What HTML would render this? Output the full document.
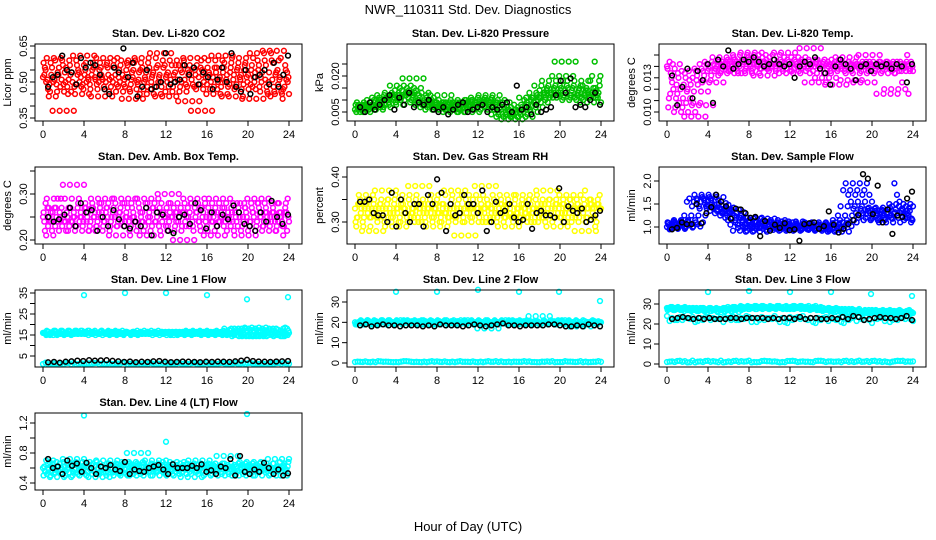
<!DOCTYPE html>
<html><head><meta charset="utf-8">
<style>
html,body{margin:0;padding:0;background:#fff;}
svg{display:block;font-family:"Liberation Sans",Arial,sans-serif;}
</style></head>
<body>
<svg id="chart" width="936" height="540" viewBox="0 0 936 540" xmlns="http://www.w3.org/2000/svg">
<rect x="0" y="0" width="936" height="540" fill="#fff"/>
<text x="468" y="14" font-size="13" text-anchor="middle">NWR_110311  Std. Dev. Diagnostics</text>
<text x="468" y="531" font-size="13" text-anchor="middle">Hour of Day (UTC)</text>
</svg>
<script>
const xTicks = [0,4,8,12,16,20,24];

const co2 = [0.52,0.55,0.47,0.58,0.50,0.44,0.53,0.60,0.49,0.56,0.51,0.46,0.38,0.59,0.54,0.48,0.57,0.50,0.45,0.53,0.61,0.49,0.55,0.52,0.47,0.58,0.51,0.44,0.56,0.60,0.50,0.53,0.48,0.57,0.46,0.52,0.59,0.49,0.55,0.43,0.51,0.58,0.47,0.54,0.60,0.50,0.45,0.56,0.52,0.48,0.62,0.53,0.44,0.57,0.50,0.59,0.46,0.54,0.51,0.48,0.57,0.42,0.55,0.60,0.49,0.53,0.38,0.56,0.47,0.52,0.59,0.50,0.45,0.54,0.61,0.48,0.56,0.51,0.44,0.58,0.53,0.49,0.60,0.47,0.55,0.52,0.43,0.57,0.50,0.62,0.48,0.54,0.59,0.46,0.63,0.51,0.45];
const co2K = [0.48,0.52,0.53,0.61,0.55,0.54,0.49,0.60,0.56,0.58,0.57,0.53,0.47,0.45,0.56,0.54,0.64,0.52,0.58,0.44,0.48,0.55,0.47,0.48,0.50,0.62,0.49,0.50,0.51,0.57,0.53,0.56,0.49,0.54,0.52,0.47,0.51,0.56,0.50,0.62,0.48,0.46,0.55,0.45,0.52,0.53,0.55,0.49,0.58,0.48,0.53,0.61];

const pr = [0.006,0.007,0.005,0.008,0.006,0.007,0.005,0.008,0.006,0.009,0.007,0.006,0.008,0.010,0.007,0.011,0.009,0.012,0.010,0.008,0.013,0.011,0.016,0.012,0.014,0.010,0.015,0.019,0.012,0.013,0.009,0.011,0.008,0.010,0.007,0.009,0.006,0.008,0.012,0.007,0.009,0.006,0.008,0.005,0.009,0.007,0.010,0.006,0.008,0.005,0.009,0.007,0.010,0.008,0.011,0.006,0.009,0.012,0.008,0.010,0.007,0.009,0.004,0.006,0.003,0.005,0.002,0.007,0.004,0.006,0.003,0.008,0.005,0.011,0.007,0.010,0.009,0.013,0.011,0.016,0.012,0.014,0.018,0.013,0.015,0.011,0.020,0.026,0.012,0.016,0.010,0.014,0.018,0.012,0.015,0.011,0.013,0.009];
const prK = [0.007,0.005,0.009,0.006,0.008,0.010,0.012,0.006,0.011,0.008,0.013,0.007,0.009,0.008,0.010,0.006,0.005,0.007,0.004,0.006,0.008,0.009,0.005,0.006,0.007,0.008,0.005,0.007,0.006,0.008,0.009,0.005,0.016,0.006,0.007,0.004,0.008,0.005,0.006,0.007,0.012,0.018,0.013,0.019,0.007,0.008,0.007,0.010,0.013,0.008];

const tp = [0.0120,0.0122,0.0113,0.0119,0.0108,0.0121,0.0102,0.0117,0.0110,0.0106,0.0115,0.0100,0.0112,0.0104,0.0118,0.0098,0.0109,0.0114,0.0103,0.0119,0.0116,0.0121,0.0113,0.0122,0.0118,0.0120,0.0124,0.0119,0.0121,0.0117,0.0122,0.0120,0.0123,0.0118,0.0125,0.0121,0.0117,0.0126,0.0122,0.0119,0.0124,0.0120,0.0116,0.0122,0.0125,0.0119,0.0121,0.0123,0.0118,0.0121,0.0126,0.0120,0.0117,0.0122,0.0124,0.0119,0.0121,0.0118,0.0123,0.0120,0.0128,0.0122,0.0113,0.0120,0.0117,0.0121,0.0115,0.0123,0.0119,0.0121,0.0112,0.0122,0.0118,0.0120,0.0124,0.0119,0.0114,0.0121,0.0117,0.0122,0.0120,0.0113,0.0121,0.0125,0.0118,0.0120,0.0122,0.0119,0.0121,0.0117,0.0108,0.0122,0.0120,0.0110,0.0121,0.0119,0.0118];
const tpK = [0.0116,0.0103,0.0111,0.0119,0.0106,0.0118,0.0114,0.0121,0.0104,0.0123,0.0120,0.0127,0.0119,0.0121,0.0123,0.0122,0.0124,0.0122,0.0120,0.0121,0.0123,0.0121,0.0120,0.0121,0.0115,0.0120,0.0122,0.0121,0.0124,0.0119,0.0117,0.0112,0.0120,0.0123,0.0121,0.0119,0.0114,0.0120,0.0121,0.0118,0.0121,0.0120,0.0121,0.0119,0.0121,0.0120,0.0113,0.0121];

const ab = [0.25,0.28,0.23,0.26,0.21,0.27,0.24,0.29,0.25,0.22,0.27,0.24,0.26,0.23,0.29,0.25,0.32,0.24,0.22,0.27,0.25,0.23,0.28,0.26,0.24,0.27,0.22,0.29,0.25,0.23,0.26,0.28,0.24,0.27,0.21,0.25,0.29,0.23,0.26,0.24,0.28,0.25,0.22,0.27,0.24,0.29,0.21,0.26,0.23,0.28,0.25,0.27,0.24,0.30,0.22,0.26,0.25,0.23,0.28,0.20,0.26,0.24,0.27,0.29,0.23,0.25,0.28,0.22,0.26,0.24,0.27,0.21,0.25,0.29,0.24,0.26,0.23,0.28,0.25,0.27,0.22,0.24,0.26,0.21,0.28,0.25,0.23,0.27,0.29,0.24,0.26,0.22,0.28,0.25,0.23,0.26,0.24];
const abK = [0.25,0.24,0.245,0.255,0.27,0.23,0.28,0.26,0.265,0.22,0.25,0.23,0.265,0.245,0.23,0.225,0.24,0.23,0.27,0.21,0.26,0.255,0.22,0.215,0.25,0.255,0.235,0.28,0.265,0.225,0.26,0.23,0.255,0.245,0.275,0.26,0.235,0.23,0.22,0.26,0.24,0.285,0.25,0.235,0.255];

const rh = [0.33,0.31,0.35,0.30,0.34,0.32,0.29,0.36,0.33,0.31,0.34,0.28,0.33,0.35,0.31,0.32,0.37,0.30,0.34,0.33,0.29,0.35,0.32,0.31,0.36,0.33,0.30,0.34,0.32,0.38,0.31,0.33,0.35,0.30,0.34,0.32,0.29,0.33,0.36,0.31,0.34,0.32,0.30,0.37,0.33,0.31,0.35,0.27,0.33,0.32,0.36,0.30,0.34,0.33,0.31,0.38,0.32,0.35,0.30,0.33,0.34,0.31,0.36,0.32,0.29,0.34,0.33,0.31,0.35,0.32,0.30,0.36,0.33,0.31,0.34,0.32,0.35,0.30,0.33,0.37,0.31,0.34,0.32,0.29,0.35,0.33,0.31,0.34,0.36,0.32,0.30,0.33,0.35,0.31,0.28,0.34,0.33];
const rhK = [0.345,0.345,0.35,0.32,0.315,0.315,0.30,0.365,0.29,0.35,0.32,0.30,0.34,0.34,0.29,0.36,0.34,0.395,0.365,0.28,0.34,0.315,0.32,0.36,0.34,0.34,0.32,0.37,0.28,0.30,0.345,0.32,0.325,0.34,0.31,0.30,0.305,0.34,0.285,0.32,0.325,0.315,0.315,0.31,0.375,0.30,0.335,0.325,0.32,0.33,0.30,0.305,0.315,0.325];

const sf = [1.00,0.95,1.05,1.10,0.98,1.02,1.08,0.96,1.12,1.04,0.99,1.15,1.06,1.01,1.10,1.25,1.55,1.62,1.45,1.70,1.58,1.40,1.65,1.52,1.48,1.35,1.42,1.30,1.38,1.25,1.32,1.20,1.15,1.05,0.92,1.10,0.98,1.20,1.02,0.90,1.12,1.05,1.18,0.96,1.08,1.00,1.15,0.94,1.06,1.10,0.98,1.04,0.92,1.12,1.00,0.96,1.08,1.02,0.94,1.06,1.00,0.97,1.10,0.95,1.03,0.98,0.92,1.05,1.00,0.96,1.08,0.90,1.02,1.15,1.10,1.25,1.45,1.80,1.95,1.70,1.55,1.40,1.30,1.20,1.35,1.15,1.28,1.42,1.18,1.32,1.25,1.10,1.38,1.20,1.30,1.50,1.45];
const sfK = [0.95,0.98,1.10,1.06,1.06,1.50,1.08,1.30,1.43,1.70,1.55,1.45,1.18,1.40,1.38,1.30,1.20,1.22,0.80,1.13,0.92,1.05,0.98,1.08,0.93,0.95,0.70,1.06,1.08,1.10,0.96,1.02,1.34,1.05,0.88,0.96,1.06,1.15,1.26,2.15,2.05,1.28,1.90,1.10,1.38,0.85,1.25,1.22,1.62,1.77];

const l1 = [16,15.5,16.5,16,15,16.5,16,17,15.5,16,16.5,15,16,17,16,15.5,16.5,16,17,15.5,16,16,15.5,17,16,16.5,15,16,16.5,16,15.5,17,16,16,15.5,16.5,16,15,16.5,16,15.5,16.5,16,16,15.5,17,16,15.5,16,16.5,16,15,16.5,16,16,15.5,16.5,16,15,16,16.5,16,15.5,16,17,16,15.5,16.5,16,16,15,16.5,16,15.5,16,16.5,17,15.5,16,18,15,17.5,14.5,18,15,17,14.5,18.5,15,17.5,14.5,18,15,17,16,15.5,16];
const l1Low = [1.2,1.5,1.0,1.8,1.3,1.6,1.1,1.4,1.7,1.2,1.5,1.0,1.6,1.3,1.4,1.2,1.8,1.1,1.5,1.3,1.6,1.2,1.4,1.7,1.3];
const l1K = [2,2.2,1.8,2.3,2.5,2.8,2.6,3,2.8,2.9,3,2.7,2.5,2.2,2.4,2.1,2.3,2.2,2.5,2.6,2.3,2.1,2.2,2.4,2.3,2.2,2.1,2.3,2.2,2.4,2.3,2.2,2.5,2.8,3.2,2.6,2.4,2.3,2.2,2.4,2.5,2.6];
const l1OutX = [4,8,12,16,19.9,23.9];
const l1Out = [34,35,35,34,32,33];

const l2 = [20,19.5,20.5,19,20,21,19.5,20,20.5,19,20,20.5,19.5,21,20,19,20.5,20,19.5,21,20,19.5,20.5,20,19,20,21,19.5,20,20.5,19.5,20,19,20.5,20,21,19.5,20,20.5,19,20,20,19.5,20.5,21,20,19.5,20,20.5,19,20,21,19.5,20,20,19.5,17,20.5,20,19.5,21,20,19,20.5,20,19.5,20,21,20,19.5,20.5,20,19,20,20.5,19.5,23,20,19,20.5,20,19.5,21,20,19.5,20,20.5,19,20,21,19.5,20,18,20,19.5,20.5,20];
const l2Low = [0.5,0.8,0.4,0.7,0.5,0.9,0.6,0.4,0.8,0.5,0.7,0.6,0.4,0.9,0.5,0.7,0.6,0.8,0.4,0.6,0.5,0.7,0.9,0.5,0.6];
const l2K = [18.5,19,18,18.5,19,18.5,18.5,18,18.5,18.5,18.5,18,18.5,18,19,18.5,18.5,18.5,18,18.5,19,18.5,18,18.5,19,19.5,18.5,18.5,18,18.5,18.5,18.5,18.5,19,19,18.5,18,18,18.5,18,19,18.5,18];
const l2OutX = [4,8,12,16,19.9,23.9];
const l2Out = [35,35,36,35,35,30.5];

const l3 = [28,27.5,28.5,27,28,27.5,28,28.5,27,27.5,28,27,27.5,28,27,26.5,27.5,28,27,27.5,26.5,27,28,27.5,27,26.5,27.5,27,26,27,27.5,28,28.5,28,28.5,27.5,28,29,28.5,28,27.5,28.5,28,29,28.5,28,28.5,28,27.5,28.5,28,28.5,29,28,28.5,27.5,28,28.5,29,28,28.5,28,27.5,28,27,27.5,28,27.5,27,26.5,27,27.5,26.5,27,26,27.5,26,25.5,26.5,26,27,25.5,26,26.5,26,25.5,26.5,27,26,25.5,26.5,26,25.5,26,26.5,26,25.5];
const l3Mid = [24,22,23,21.5,23.5,22.5,23,22,23.5,22,23,21,23.5,22.5,23,22,24,21,23,22.5,20.5,23.5,22,23,21.5];
const l3Low = [1,1.5,0.8,1.2,1.6,0.9,1.3,1.1,1.7,1,1.4,0.8,1.5,1.2,1,1.6,1.3,0.9,1.4,1.1,1.5,1,1.2,1.6,1.3];
const l3K = [22.5,23,23.5,23,22.5,23,22.5,23,22.5,22.5,22.5,23,23,22.5,23,23,23,23,22.5,23,22.5,23,23,22.5,23.5,22.5,23,23,22.5,22.5,23,22.5,23.5,22.5,24,23.5,22,22.5,23,23.5,23,23,22.5,23,24,22];
const l3OutX = [4,8,12,16,19.9,23.9];
const l3Out = [36,36.5,36,36,35,34];

const l4 = [0.6,0.55,0.65,0.5,0.7,0.58,0.62,0.52,0.68,0.56,0.6,0.48,0.66,0.54,0.62,0.58,0.72,0.5,0.6,0.64,0.55,0.68,0.52,0.62,0.58,0.66,0.48,0.6,0.56,0.7,0.54,0.62,0.58,0.5,0.66,0.6,0.55,0.64,0.52,0.68,0.58,0.8,0.5,0.62,0.56,0.66,0.6,0.54,0.7,0.58,0.62,0.5,0.64,0.56,0.6,0.68,0.52,0.62,0.58,0.66,0.55,0.6,0.48,0.64,0.58,0.7,0.52,0.62,0.56,0.6,0.66,0.5,0.64,0.58,0.62,0.55,0.76,0.6,0.52,0.66,0.58,0.62,0.5,0.64,0.56,0.68,0.6,0.54,0.62,0.58,0.66,0.5,0.6,0.56,0.62,0.58,0.72];
const l4OutX = [4,12,19.9];
const l4Out = [1.3,0.95,1.32];
const l4K = [0.72,0.6,0.62,0.52,0.7,0.63,0.66,0.55,0.67,0.6,0.52,0.62,0.6,0.64,0.58,0.56,0.68,0.52,0.58,0.56,0.55,0.6,0.62,0.64,0.58,0.52,0.65,0.6,0.6,0.6,0.63,0.6,0.65,0.55,0.57,0.52,0.62,0.6,0.72,0.5,0.76,0.55,0.52,0.58,0.55,0.67,0.6,0.52,0.58,0.5,0.53];

const panels = [
 {name:'co2', title:'Stan. Dev. Li-820 CO2', ylab:'Licor ppm', col:0,row:0, v0:0.35,p0:74, v1:0.65,p1:2,
  ticks:[0.35,0.40,0.45,0.50,0.55,0.60,0.65], labels:{'0.35':'0.35','0.5':'0.50','0.65':'0.65'},
  series:[[co2,'#ff0000','full'],[co2K,'#000','blk']]},
 {name:'pressure', title:'Stan. Dev. Li-820 Pressure', ylab:'kPa', col:1,row:0, v0:0.005,p0:68, v1:0.020,p1:32,
  ticks:[0.005,0.010,0.015,0.020,0.025], labels:{'0.005':'0.005','0.02':'0.020'},
  series:[[pr,'#00c000','full'],[prK,'#000','blk']]},
 {name:'li820-temp', title:'Stan. Dev. Li-820 Temp.', ylab:'degrees C', col:2,row:0, v0:0.0100,p0:68, v1:0.0125,p1:11,
  ticks:[0.0100,0.0105,0.0110,0.0115,0.0120,0.0125], labels:{'0.01':'0.010','0.0115':'0.013'},
  series:[[tp,'#ff00ff','full'],[tpK,'#000','blk']]},
 {name:'amb-box-temp', title:'Stan. Dev. Amb. Box Temp.', ylab:'degrees C', col:0,row:1, v0:0.20,p0:73, v1:0.30,p1:27,
  ticks:[0.20,0.25,0.30,0.35], labels:{'0.2':'0.20','0.3':'0.30'},
  series:[[ab,'#ff00ff','full'],[abK,'#000','blk']]},
 {name:'gas-stream-rh', title:'Stan. Dev. Gas Stream RH', ylab:'percent', col:1,row:1, v0:0.30,p0:55, v1:0.40,p1:10,
  ticks:[0.30,0.35,0.40], labels:{'0.3':'0.30','0.4':'0.40'},
  series:[[rh,'#ffff00','full'],[rhK,'#000','blk']]},
 {name:'sample-flow', title:'Stan. Dev. Sample Flow', ylab:'ml/min', col:2,row:1, v0:1.0,p0:60, v1:2.0,p1:14,
  ticks:[1.0,1.5,2.0], labels:{'1':'1.0','1.5':'1.5','2':'2.0'},
  series:[[sf,'#0000ff','full'],[sfK,'#000','blk']]},
 {name:'line1-flow', title:'Stan. Dev. Line 1 Flow', ylab:'ml/min', col:0,row:2, v0:5,p0:66, v1:35,p1:3,
  ticks:[5,10,15,20,25,30,35], labels:{'5':'5','15':'15','25':'25','35':'35'},
  series:[[l1,'#00ffff','full'],[l1Low,'#00ffff','full'],[l1K,'#000','blk'],[l1Out,'#00ffff',l1OutX]]},
 {name:'line2-flow', title:'Stan. Dev. Line 2 Flow', ylab:'ml/min', col:1,row:2, v0:0,p0:73, v1:30,p1:12,
  ticks:[0,10,20,30], labels:{'0':'0','10':'10','20':'20','30':'30'},
  series:[[l2,'#00ffff','full'],[l2Low,'#00ffff','full'],[l2K,'#000','blk'],[l2Out,'#00ffff',l2OutX]]},
 {name:'line3-flow', title:'Stan. Dev. Line 3 Flow', ylab:'ml/min', col:2,row:2, v0:0,p0:74, v1:30,p1:14,
  ticks:[0,10,20,30], labels:{'0':'0','10':'10','20':'20','30':'30'},
  series:[[l3,'#00ffff','full'],[l3Mid,'#00ffff','full'],[l3Low,'#00ffff','full'],[l3K,'#000','blk'],[l3Out,'#00ffff',l3OutX]]},
 {name:'line4-flow', title:'Stan. Dev. Line 4 (LT) Flow', ylab:'ml/min', col:0,row:3, v0:0.4,p0:70, v1:1.2,p1:10,
  ticks:[0.4,0.6,0.8,1.0,1.2], labels:{'0.4':'0.4','0.8':'0.8','1.2':'1.2'},
  series:[[l4,'#00ffff','full'],[l4K,'#000','blk'],[l4Out,'#00ffff',l4OutX]]}
];

const NS = 'http://www.w3.org/2000/svg';
const svg = document.getElementById('chart');
function mk(tag, attrs, parent){
  const e = document.createElementNS(NS, tag);
  for (const k in attrs) e.setAttribute(k, attrs[k]);
  (parent||svg).appendChild(e);
  return e;
}

panels.forEach(p => {
  const L = 35 + 312*p.col, T = 44 + 123*p.row, W = 267, H = 77;
  const g = mk('g', {});
  
  
  const xS = h => 43 + 312*p.col + h*(246/24);
  const yS = v => T + p.p0 + (v - p.v0)*(p.p1 - p.p0)/(p.v1 - p.v0);

  const tt = mk('text', {x: L + W/2, y: T - 7, 'font-size': 11, 'font-weight': 'bold', 'text-anchor': 'middle'}, g);
  tt.textContent = p.title;
  
  

  const yl = mk('text', {x: 0, y: 0, 'font-size': 11, 'text-anchor': 'middle', transform: `translate(${L-24},${T+H/2}) rotate(-90)`}, g);
  yl.textContent = p.ylab;
  
  

  p.series.forEach((s, si) => {
    const vals = s[0], color = s[1], mode = s[2];
    const sg = mk('g', {fill: 'none', stroke: color, 'stroke-width': 1.5}, g);
    
    
    const n = vals.length;
    const passes = (mode === 'full') ? 4 : 1;
    for (let k = 0; k < passes; k++) {
      vals.forEach((v0, i) => {
        let h, v = v0;
        if (Array.isArray(mode)) h = mode[i];
        else if (mode === 'blk') h = 0.5 + i*23.4/(n-1);
        else {
          const step = 24/(n-1);
          h = i*step + k*step/4;
          if (h > 24) return;
          let j = i + 3*k;
          if (j >= n) j = Math.max(0, i - 3*k - 1);
          v = vals[j];
        }
        const c = mk('circle', {cx: xS(h).toFixed(1), cy: yS(v).toFixed(1), r: 2.4}, sg);
        
        
      });
    }
  });

  const box = mk('rect', {x: L, y: T, width: W, height: H, fill: 'none', stroke: '#000', 'stroke-width': 1}, g);
  
  

  xTicks.forEach(h => {
    const x = xS(h);
    mk('line', {x1: x, y1: T+H, x2: x, y2: T+H+5, stroke: '#000'}, g);
    const t = mk('text', {x: x, y: T+H+17, 'font-size': 11, 'text-anchor': 'middle'}, g);
    t.textContent = h;
    
    
  });
  p.ticks.forEach(v => {
    const y = yS(v);
    mk('line', {x1: L, y1: y, x2: L-5, y2: y, stroke: '#000'}, g);
    const key = String(+v.toFixed(6));
    if (p.labels[key] !== undefined) {
      const t = mk('text', {x: 0, y: 0, 'font-size': 11, 'text-anchor': 'middle', transform: `translate(${L-8},${y}) rotate(-90)`}, g);
      t.textContent = p.labels[key];
      
      
    }
  });
});
</script>
</body></html>
